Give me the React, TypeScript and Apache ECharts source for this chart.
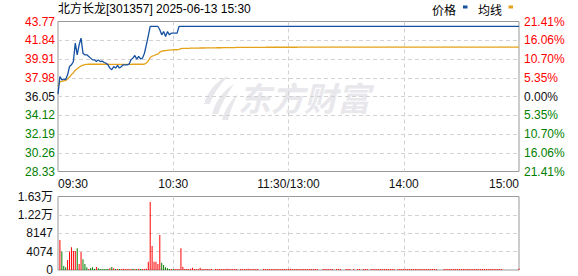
import React, { useEffect, useRef } from "react";
import * as echarts from "echarts";

// ---- data -------------------------------------------------------------
const PRE_CLOSE = 36.05;
const TITLE = "北方长龙[301357] 2025-06-13 15:30";

const TIME_TICKS = ["09:30", "10:30", "11:30/13:00", "14:00", "15:00"];
const PRICE_TICKS = ["28.33", "30.26", "32.19", "34.12", "36.05", "37.98", "39.91", "41.84", "43.77"];
const PCT_TICKS = ["21.41%", "16.06%", "10.70%", "5.35%", "0.00%", "5.35%", "10.70%", "16.06%", "21.41%"];
const VOL_TICKS = ["0", "4074", "8147", "1.22万", "1.63万"];

// one value per trading minute, 09:30 … 11:30 / 13:01 … 15:00
const PRICE = [
  36.30, 38.11, 37.77, 37.85, 37.80, 38.28, 39.14, 39.31, 39.65, 41.55, 40.34, 41.37, 42.06, 40.51, 40.34, 40.34,
  40.17, 40.00, 39.82, 39.82, 39.65, 39.82, 39.65, 39.70, 39.55, 39.48, 39.31, 38.97, 38.80, 39.14, 38.97, 39.25,
  38.97, 39.14, 39.31, 39.31, 39.31, 39.37, 39.83, 40.00, 40.27, 39.90, 40.17, 39.92, 40.00, 40.50, 41.37, 42.30,
  43.26, 43.26, 43.26, 43.26, 43.26, 42.92, 42.40, 42.74, 42.23, 42.74, 42.40, 42.57, 42.57, 42.57, 42.57, 43.26,
  43.26, 43.26, 43.26, 43.26, 43.26, 43.26, 43.26, 43.26, 43.26, 43.26,
  43.26, 43.26, 43.26, 43.26, 43.26, 43.26, 43.26, 43.26, 43.26, 43.26,
  43.26, 43.26, 43.26, 43.26, 43.26, 43.26, 43.26, 43.26, 43.26, 43.26,
  43.26, 43.26, 43.26, 43.26, 43.26, 43.26, 43.26, 43.26, 43.26, 43.26,
  43.26, 43.26, 43.26, 43.26, 43.26, 43.26, 43.26, 43.26, 43.26, 43.26,
  43.26, 43.26, 43.26, 43.26, 43.26, 43.26, 43.26, 43.26, 43.26, 43.26,
  43.26, 43.26, 43.26, 43.26, 43.26, 43.26, 43.26, 43.26, 43.26, 43.26,
  43.26, 43.26, 43.26, 43.26, 43.26, 43.26, 43.26, 43.26, 43.26, 43.26,
  43.26, 43.26, 43.26, 43.26, 43.26, 43.26, 43.26, 43.26, 43.26, 43.26,
  43.26, 43.26, 43.26, 43.26, 43.26, 43.26, 43.26, 43.26, 43.26, 43.26,
  43.26, 43.26, 43.26, 43.26, 43.26, 43.26, 43.26, 43.26, 43.26, 43.26,
  43.26, 43.26, 43.26, 43.26, 43.26, 43.26, 43.26, 43.26, 43.26, 43.26,
  43.26, 43.26, 43.26, 43.26, 43.26, 43.26, 43.26, 43.26, 43.26, 43.26,
  43.26, 43.26, 43.26, 43.26, 43.26, 43.26, 43.26, 43.26, 43.26, 43.26,
  43.26, 43.26, 43.26, 43.26, 43.26, 43.26, 43.26, 43.26, 43.26, 43.26,
  43.26, 43.26, 43.26, 43.26, 43.26, 43.26, 43.26, 43.26, 43.26, 43.26,
  43.26, 43.26, 43.26, 43.26, 43.26, 43.26, 43.26, 43.26, 43.26, 43.26,
  43.26, 43.26, 43.26, 43.26, 43.26, 43.26, 43.26,
];

const AVG = [
  37.10, 37.55, 37.62, 37.66, 37.70, 37.85, 38.05, 38.30, 38.50, 38.75, 38.90, 39.05, 39.20, 39.28, 39.33, 39.36,
  39.37, 39.37, 39.37, 39.37, 39.37, 39.37, 39.37, 39.37, 39.37, 39.37, 39.37, 39.36, 39.36, 39.36, 39.36, 39.36,
  39.36, 39.36, 39.36, 39.36, 39.36, 39.36, 39.36, 39.37, 39.37, 39.37, 39.37, 39.37, 39.37, 39.38, 39.50, 39.72,
  40.06, 40.20, 40.27, 40.35, 40.40, 40.62, 40.72, 40.76, 40.78, 40.80, 40.82, 40.84, 40.85, 40.86, 40.86, 40.90,
  40.98, 41.00, 41.00, 41.01, 41.01, 41.02, 41.02, 41.03, 41.03, 41.03, 41.04, 41.04, 41.04, 41.05, 41.05, 41.05,
  41.06, 41.06, 41.06, 41.07, 41.07, 41.07, 41.08,
  41.08, 41.09, 41.09, 41.09, 41.09, 41.09, 41.10, 41.10, 41.10, 41.10,
  41.10, 41.10, 41.10, 41.11, 41.11, 41.11, 41.11, 41.11, 41.11, 41.11,
  41.11, 41.11, 41.12, 41.12, 41.12, 41.12, 41.12, 41.12, 41.12, 41.12,
  41.12, 41.12, 41.12, 41.12, 41.12, 41.12, 41.12, 41.12, 41.13, 41.13,
  41.13, 41.13, 41.13, 41.13, 41.13, 41.13, 41.13, 41.13, 41.13, 41.13,
  41.13, 41.13, 41.13, 41.13, 41.13, 41.13, 41.13, 41.13, 41.13, 41.13,
  41.13, 41.13, 41.13, 41.13, 41.13, 41.13, 41.13, 41.13, 41.13, 41.13,
  41.13, 41.13, 41.13, 41.13, 41.13, 41.13, 41.14, 41.14, 41.14, 41.14,
  41.14, 41.14, 41.14, 41.14, 41.14, 41.14, 41.14, 41.14, 41.14, 41.14,
  41.14, 41.14, 41.14, 41.14, 41.14, 41.14, 41.14, 41.14, 41.14, 41.14,
  41.14, 41.14, 41.14, 41.14, 41.14, 41.14, 41.14, 41.14, 41.14, 41.14,
  41.14, 41.14, 41.14, 41.14, 41.14, 41.14, 41.14, 41.14, 41.14, 41.14,
  41.14, 41.14, 41.14, 41.14, 41.14, 41.14, 41.14, 41.14, 41.14, 41.14,
  41.14, 41.14, 41.14, 41.14, 41.14, 41.14, 41.14, 41.14, 41.14, 41.14,
  41.14, 41.14, 41.14, 41.14, 41.14, 41.14, 41.14, 41.14, 41.14, 41.14,
  41.14, 41.14, 41.14, 41.14,
];

// shares traded per minute
const VOLUME = [
  0, 6670, 4075, 890, 590, 2220, 4075, 5040, 4220, 4220, 4820, 1330, 4000, 2370, 1330, 590,
  220, 440, 590, 220, 670, 370, 220, 220, 220, 220, 220, 370, 670, 370, 200, 220,
  200, 220, 300, 200, 220, 220, 200, 300, 220, 220, 300, 220, 200, 220, 300, 1850,
  15100, 5340, 1850, 1850, 1330, 7780, 1630, 1110, 590, 370, 220, 200, 220, 200, 220, 200,
  4820, 740,
  220, 200, 220, 300, 520, 220, 200, 220, 520, 220,
  200, 220, 220, 200, 220, 0, 220, 200, 220, 200,
  220, 200, 300, 220, 200, 220, 220, 200, 0, 220,
  200, 220, 220, 300, 200, 220, 200, 220, 200, 0,
  0, 220, 200, 220, 200, 220, 220, 200, 220, 200,
  220, 200, 220, 220, 200, 300, 220, 200, 220, 200,
  220, 220, 200, 220, 200, 220, 200, 220, 200, 220,
  0, 0, 220, 200, 220, 200, 220, 220, 0, 200,
  220, 200, 0, 0, 220, 200, 220, 0, 220, 0,
  220, 200, 0, 220, 200, 220, 0, 220, 200, 220,
  200, 220, 200, 220, 200, 220, 220, 200, 220, 200,
  0, 220, 200, 220, 200, 220, 200, 220, 200, 220,
  220, 200, 220, 200, 220, 200, 220, 200, 220, 200,
  220, 200, 0, 0, 0, 220, 200, 220, 200, 220,
  200, 220, 200, 220, 200, 220, 200, 220, 220, 200,
  220, 200, 220, 200, 220, 200, 220, 200, 220, 200,
  220, 200, 220, 200, 220, 200, 0, 0, 0, 0,
  0, 0, 0, 0, 300,
];

// minutes whose volume bar is drawn as selling (green)
const SELL_MINUTES = [2, 3, 4, 10, 13, 14, 15, 17, 18, 19, 21, 22, 23, 24, 25, 26, 28, 30, 32, 39, 41, 43, 54, 55, 56, 57, 58, 60];

// ---- styles -----------------------------------------------------------
const FONT = '"Liberation Sans", Arial, "Noto Sans CJK SC", sans-serif';
const CJK = '"Noto Sans CJK SC", "Liberation Sans", sans-serif';
const UP = "#ff0000";
const DOWN = "#008000";
const FLAT = "#111111";
const PRICE_COLOR = "#1650a0";
const AVG_COLOR = "#e3a21a";
const WATERMARK = "#e8e8ec";

const SPLIT = {
  show: true,
  showMinLine: false,
  showMaxLine: false,
  lineStyle: { color: "#d2d2d2", type: [4, 3] as number[], width: 1 },
};

const RICH = {
  up: { color: UP, fontSize: 12, fontFamily: FONT },
  dn: { color: DOWN, fontSize: 12, fontFamily: FONT },
  eq: { color: FLAT, fontSize: 12, fontFamily: FONT },
};

const STEP = 193; // 1.93 yuan per gridline, axis measured in cents from the previous close
const toCents = (p: number) => Math.round((p - PRE_CLOSE) * 100);
const tickIndex = (v: number) => Math.round((v + 4 * STEP) / STEP);
const tone = (i: number) => (i > 4 ? "up" : i < 4 ? "dn" : "eq");

// Eastmoney style swoosh used in the background mark
echarts.graphic.registerShape(
  "emLogo",
  echarts.graphic.extendPath(
    "M30 0 C20 4 10 14 6 28 L12 28 C15 18 22 9 30 0 Z M36 8 C26 14 18 24 14 38 L20 38 C23 28 29 18 36 8 Z M40 18 C33 24 27 33 24 44 L30 44 C32 36 35 27 40 18 Z",
    {}
  )
);

function buildOption(): echarts.EChartsCoreOption {
  const sell = new Set(SELL_MINUTES);
  return {
    animation: false,
    backgroundColor: "#ffffff",
    textStyle: { fontFamily: FONT },
    graphic: [
      {
        type: "emLogo",
        x: 198,
        y: 76,
        scaleX: 1,
        scaleY: 1,
        z: 0,
        style: { fill: WATERMARK },
      },
      {
        type: "text",
        x: 238,
        y: 97,
        z: 0,
        style: {
          text: "东方财富",
          font: `italic bold 33px ${CJK}`,
          fill: WATERMARK,
          verticalAlign: "middle",
        },
      },
      {
        type: "text",
        x: 58,
        y: 9,
        z: 10,
        style: { text: TITLE, font: `12px ${FONT}`, fill: "#000", verticalAlign: "middle" },
      },
      {
        type: "text",
        x: 432,
        y: 9,
        z: 10,
        style: { text: "价格", font: `12px ${CJK}`, fill: "#000", verticalAlign: "middle" },
      },
      { type: "rect", x: 463, y: 5.5, z: 10, shape: { width: 4.5, height: 3 }, style: { fill: PRICE_COLOR } },
      {
        type: "text",
        x: 478,
        y: 9,
        z: 10,
        style: { text: "均线", font: `12px ${CJK}`, fill: "#000", verticalAlign: "middle" },
      },
      { type: "rect", x: 508.5, y: 5.5, z: 10, shape: { width: 4.5, height: 3 }, style: { fill: AVG_COLOR } },
    ],
    grid: [
      { left: 58, top: 21.5, width: 461, height: 150, show: true, borderColor: "#999", borderWidth: 1 },
      { left: 58, top: 196.5, width: 461, height: 73.5, show: true, borderColor: "#999", borderWidth: 1 },
    ],
    xAxis: [
      {
        type: "value",
        gridIndex: 0,
        min: 0,
        max: 240,
        interval: 60,
        axisLine: { show: false },
        axisTick: { show: false },
        splitLine: SPLIT,
        axisLabel: {
          formatter: (v: number) => TIME_TICKS[Math.round(v / 60)],
          color: FLAT,
          fontSize: 12,
          fontFamily: FONT,
          margin: 6,
          showMinLabel: true,
          showMaxLabel: true,
          alignMinLabel: "left",
          alignMaxLabel: "right",
        },
      },
      {
        type: "value",
        gridIndex: 1,
        min: 0,
        max: 240,
        interval: 60,
        axisLine: { show: false },
        axisTick: { show: false },
        axisLabel: { show: false },
        splitLine: SPLIT,
      },
    ],
    yAxis: [
      {
        type: "value",
        gridIndex: 0,
        position: "left",
        min: -4 * STEP,
        max: 4 * STEP,
        interval: STEP,
        axisLine: { show: false },
        axisTick: { show: false },
        splitLine: SPLIT,
        axisLabel: {
          margin: 3,
          showMinLabel: true,
          showMaxLabel: true,
          formatter: (v: number) => {
            const i = tickIndex(v);
            return `{${tone(i)}|${PRICE_TICKS[i]}}`;
          },
          rich: RICH,
        },
      },
      {
        type: "value",
        gridIndex: 0,
        position: "right",
        min: -4 * STEP,
        max: 4 * STEP,
        interval: STEP,
        axisLine: { show: false },
        axisTick: { show: false },
        splitLine: { show: false },
        axisLabel: {
          margin: 5,
          showMinLabel: true,
          showMaxLabel: true,
          formatter: (v: number) => {
            const i = tickIndex(v);
            return `{${tone(i)}|${PCT_TICKS[8 - i]}}`;
          },
          rich: RICH,
        },
      },
      {
        type: "value",
        gridIndex: 1,
        position: "left",
        min: 0,
        max: 16294,
        interval: 4073.5,
        axisLine: { show: false },
        axisTick: { show: false },
        splitLine: SPLIT,
        axisLabel: {
          margin: 5,
          showMinLabel: true,
          showMaxLabel: true,
          color: FLAT,
          fontSize: 12,
          fontFamily: FONT,
          formatter: (v: number) => VOL_TICKS[Math.round(v / 4073.5)],
        },
      },
    ],
    series: [
      {
        name: "均线",
        type: "line",
        xAxisIndex: 0,
        yAxisIndex: 0,
        showSymbol: false,
        z: 3,
        lineStyle: { color: AVG_COLOR, width: 1.3 },
        data: AVG.map((p, i) => [i, toCents(p)]),
      },
      {
        name: "价格",
        type: "line",
        xAxisIndex: 0,
        yAxisIndex: 0,
        showSymbol: false,
        z: 4,
        lineStyle: { color: PRICE_COLOR, width: 1.3 },
        data: PRICE.map((p, i) => [i, toCents(p)]),
      },
      {
        name: "成交量",
        type: "bar",
        xAxisIndex: 1,
        yAxisIndex: 2,
        barWidth: 1,
        z: 3,
        data: VOLUME.map((v, i) => ({
          value: [i, v],
          itemStyle: { color: sell.has(i) ? DOWN : UP },
        })),
      },
    ],
  };
}

export default function App() {
  const ref = useRef<HTMLDivElement>(null);

  useEffect(() => {
    if (!ref.current) return;
    const chart = echarts.init(ref.current, null, { renderer: "svg" });
    chart.setOption(buildOption());
    return () => chart.dispose();
  }, []);

  return (
    <div
      ref={ref}
      style={{ position: "absolute", left: 0, top: 0, width: 578, height: 276, background: "#fff" }}
    />
  );
}
